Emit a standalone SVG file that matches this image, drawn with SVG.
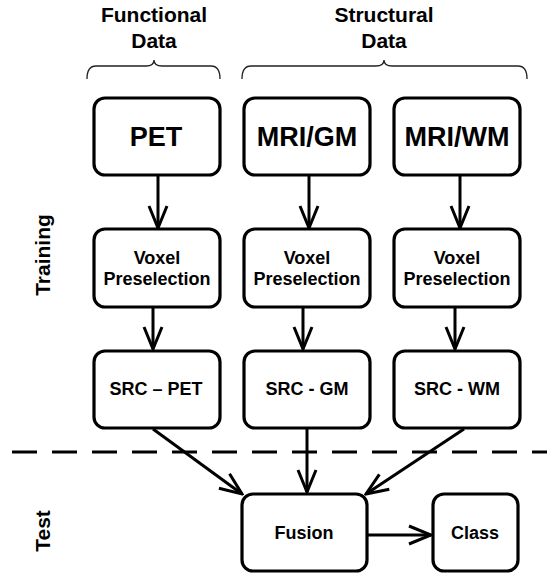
<svg xmlns="http://www.w3.org/2000/svg" width="547" height="574" viewBox="0 0 547 574">
<style>
.box{fill:#fff;stroke:#000;stroke-width:3.2}
.t{font-family:"Liberation Sans",Arial,sans-serif;font-weight:bold;fill:#000;text-anchor:middle}
.big{font-size:27px}
.mid{font-size:18px}
.hdr{font-size:21px}
.ln{fill:none;stroke:#000;stroke-width:3}
.brace{fill:none;stroke:#222;stroke-width:1.3}
</style>
<defs>
<marker id="ah" viewBox="-24 -11 26 22" refX="0" refY="0" markerWidth="26" markerHeight="22" markerUnits="userSpaceOnUse" orient="auto">
<path d="M-22,-9 L0,0 L-22,9" fill="none" stroke="#000" stroke-width="3"/>
</marker>
</defs>
<g id="labels">
<text class="t hdr" x="154" y="22">Functional</text>
<text class="t hdr" x="154" y="48">Data</text>
<text class="t hdr" x="384" y="22">Structural</text>
<text class="t hdr" x="384" y="48">Data</text>
<text class="t hdr" transform="translate(50,255) rotate(-90)">Training</text>
<text class="t hdr" transform="translate(50,531) rotate(-90)">Test</text>
</g>
<g id="braces">
<path class="brace" d="M87,79 Q87,66 96,66 L146,66 Q154,66 154,60 Q154,66 162,66 L211,66 Q220,66 220,79"/>
<path class="brace" d="M242,79 Q242,66 251,66 L376,66 Q384,66 384,60 Q384,66 392,66 L518,66 Q527,66 527,79"/>
</g>
<g id="connectors">
<line class="ln" x1="12" y1="452" x2="547" y2="452" stroke-dasharray="25 15"/>
<line class="ln" x1="158" y1="176" x2="158" y2="228" marker-end="url(#ah)"/>
<line class="ln" x1="309" y1="176" x2="309" y2="228" marker-end="url(#ah)"/>
<line class="ln" x1="460" y1="176" x2="460" y2="228" marker-end="url(#ah)"/>
<line class="ln" x1="153" y1="307" x2="153" y2="349" marker-end="url(#ah)"/>
<line class="ln" x1="303" y1="307" x2="303" y2="349" marker-end="url(#ah)"/>
<line class="ln" x1="455" y1="307" x2="455" y2="349" marker-end="url(#ah)"/>
<line class="ln" x1="153" y1="429" x2="242" y2="494" marker-end="url(#ah)"/>
<line class="ln" x1="307" y1="429" x2="307" y2="492" marker-end="url(#ah)"/>
<line class="ln" x1="464" y1="429" x2="366" y2="494" marker-end="url(#ah)"/>
<line class="ln" x1="367" y1="535" x2="431" y2="535" marker-end="url(#ah)"/>
</g>
<g id="pet"><rect class="box" x="94" y="98" width="126" height="77" rx="11"/><text class="t big" x="156" y="146">PET</text></g>
<g id="mrigm"><rect class="box" x="244" y="98" width="126" height="77" rx="11"/><text class="t big" x="307" y="146">MRI/GM</text></g>
<g id="mriwm"><rect class="box" x="394" y="98" width="126" height="77" rx="11"/><text class="t big" x="457" y="146">MRI/WM</text></g>
<g id="voxel1"><rect class="box" x="94" y="229" width="126" height="78" rx="11"/><text class="t mid" x="157" y="264">Voxel</text><text class="t mid" x="157" y="285">Preselection</text></g>
<g id="voxel2"><rect class="box" x="244" y="229" width="126" height="78" rx="11"/><text class="t mid" x="307" y="264">Voxel</text><text class="t mid" x="307" y="285">Preselection</text></g>
<g id="voxel3"><rect class="box" x="394" y="229" width="126" height="78" rx="11"/><text class="t mid" x="457" y="264">Voxel</text><text class="t mid" x="457" y="285">Preselection</text></g>
<g id="srcpet"><rect class="box" x="94" y="351" width="126" height="77" rx="11"/><text class="t mid" x="156" y="395">SRC – PET</text></g>
<g id="srcgm"><rect class="box" x="244" y="351" width="126" height="77" rx="11"/><text class="t mid" x="307" y="395">SRC - GM</text></g>
<g id="srcwm"><rect class="box" x="394" y="351" width="126" height="77" rx="11"/><text class="t mid" x="457" y="395">SRC - WM</text></g>
<g id="fusion"><rect class="box" x="242" y="494" width="125" height="77" rx="11"/><text class="t mid" x="304" y="539">Fusion</text></g>
<g id="class"><rect class="box" x="433" y="494" width="85" height="77" rx="11"/><text class="t mid" x="475" y="539">Class</text></g>
</svg>
